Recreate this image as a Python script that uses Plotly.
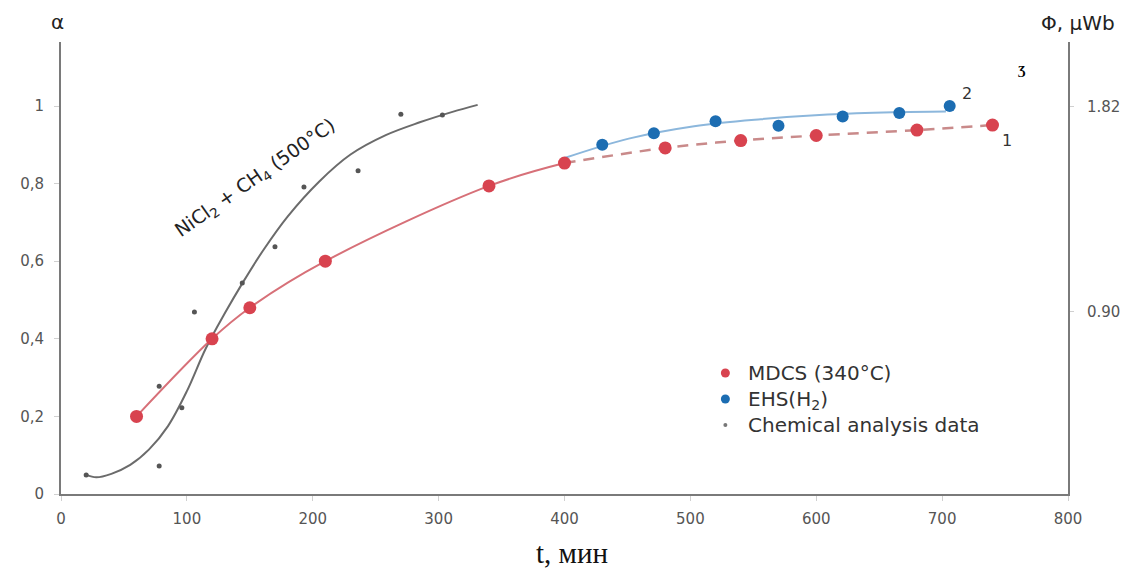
import plotly.graph_objects as go

# ---- data ----
mdcs_t = [60, 120, 150, 210, 340, 400]
mdcs_a = [0.20, 0.40, 0.48, 0.60, 0.794, 0.853]
mdcs_t2 = [400, 480, 540, 600, 680, 740]
mdcs_a2 = [0.853, 0.892, 0.911, 0.924, 0.938, 0.951]

ehs_t = [430, 471, 520, 570, 621, 666, 706]
ehs_a = [0.900, 0.930, 0.961, 0.949, 0.973, 0.982, 1.000]
ehs_fit_t = [400, 451, 503, 556, 609, 661, 703]
ehs_fit_a = [0.866, 0.916, 0.948, 0.966, 0.978, 0.984, 0.986]

chem_t = [20, 78, 78, 96, 106, 144, 170, 193, 236, 270, 303]
chem_a = [0.049, 0.072, 0.278, 0.222, 0.469, 0.544, 0.637, 0.791, 0.833, 0.979, 0.977]
chem_fit_t = [20, 28, 40, 55, 70, 85, 100, 115, 130, 145, 160, 180, 205, 230, 258, 285, 311, 331]
chem_fit_a = [0.050, 0.043, 0.052, 0.075, 0.115, 0.175, 0.265, 0.375, 0.465, 0.548,
              0.625, 0.715, 0.805, 0.875, 0.925, 0.958, 0.985, 1.003]

x_ticks = [0, 100, 200, 300, 400, 500, 600, 700, 800]
y_ticks = [0, 0.2, 0.4, 0.6, 0.8, 1.0]
y_ticktext = ["0", "0,2", "0,4", "0,6", "0,8", "1"]
y2_ticks = [0.90, 1.82]
y2_ticktext = ["0.90", "1.82"]

legend_names = ["MDCS (340°C)", "EHS(H<sub>2</sub>)", "Chemical analysis data"]

RED = "#d8434f"
RED_LINE = "#d77078"
RED_DASH = "#c98a8a"
BLUE = "#1c6db2"
BLUE_LINE = "#8cb7dc"
GRAY_LINE = "#6b6b6b"
GRAY_DOT = "#555555"

fig = go.Figure()

# fitted curves
fig.add_trace(go.Scatter(x=chem_fit_t, y=chem_fit_a, mode="lines",
                         line=dict(color=GRAY_LINE, width=2, shape="spline"),
                         showlegend=False, hoverinfo="skip"))
fig.add_trace(go.Scatter(x=mdcs_t, y=mdcs_a, mode="lines",
                         line=dict(color=RED_LINE, width=2, shape="spline"),
                         showlegend=False, hoverinfo="skip"))
fig.add_trace(go.Scatter(x=mdcs_t2, y=mdcs_a2, mode="lines",
                         line=dict(color=RED_DASH, width=2.5, shape="spline", dash="11px,8px"),
                         showlegend=False, hoverinfo="skip"))
fig.add_trace(go.Scatter(x=ehs_fit_t, y=ehs_fit_a, mode="lines",
                         line=dict(color=BLUE_LINE, width=2, shape="spline"),
                         showlegend=False, hoverinfo="skip"))

# data points
fig.add_trace(go.Scatter(x=chem_t, y=chem_a, mode="markers", name=legend_names[2],
                         marker=dict(color=GRAY_DOT, size=5), showlegend=False))
fig.add_trace(go.Scatter(x=mdcs_t + mdcs_t2[1:], y=mdcs_a + mdcs_a2[1:], mode="markers",
                         name=legend_names[0],
                         marker=dict(color=RED, size=13), showlegend=False))
fig.add_trace(go.Scatter(x=ehs_t, y=ehs_a, mode="markers", name=legend_names[1],
                         marker=dict(color=BLUE, size=12), showlegend=False))

# invisible trace to activate right axis
fig.add_trace(go.Scatter(x=[None], y=[None], yaxis="y2", showlegend=False))

tick_font = dict(family="DejaVu Sans, sans-serif", size=15, color="#555555")

PL, PR, PT, PB = 57, 1068, 42, 494   # plot area in window pixels
W, H = 1130, 563                      # page adds an 8px body margin

def px(x):
    return (x - PL) / (PR - PL)

def py(y):
    return (PB - y) / (PB - PT)

fig.update_layout(
    width=W, height=H,
    margin=dict(l=PL - 8, r=W + 8 - PR, t=PT - 8, b=H + 8 - PB),
    paper_bgcolor="white", plot_bgcolor="white",
    showlegend=False,
    xaxis=dict(range=[0, 800], tickvals=x_ticks, showgrid=False, zeroline=False,
               showline=True, linecolor="#7a7a7a", linewidth=2,
               ticks="outside", ticklen=5, tickcolor="#d0d0d0",
               tickfont=tick_font, ticklabelstandoff=5),
    yaxis=dict(range=[0, 1.165], tickvals=y_ticks, ticktext=y_ticktext,
               showgrid=False, zeroline=False,
               showline=True, linecolor="#7a7a7a", linewidth=2,
               ticks="outside", ticklen=5, tickcolor="#d0d0d0",
               tickfont=tick_font, ticklabelstandoff=7),
    yaxis2=dict(range=[0.081, 2.11], overlaying="y", side="right",
                tickvals=y2_ticks, ticktext=y2_ticktext,
                showgrid=False, zeroline=False,
                showline=True, linecolor="#7a7a7a", linewidth=2,
                ticks="outside", ticklen=4, tickcolor="#d0d0d0",
                tickfont=tick_font, ticklabelstandoff=10),
)

ann_font = dict(family="DejaVu Sans, sans-serif", color="#333333")
annotations = [
    dict(text="NiCl<sub>2</sub> + CH<sub>4</sub> (500°C)", x=px(252), y=py(178), textangle=-35,
         font=dict(ann_font, size=19, color="#222222")),
    dict(text="2", x=px(967), y=py(93), font=dict(ann_font, size=16)),
    dict(text="1", x=px(1007), y=py(140), font=dict(ann_font, size=16)),
    dict(text="α", x=px(53), y=py(22), font=dict(ann_font, size=20, color="#222222")),
    dict(text="Φ, µWb", x=px(1078), y=py(23), font=dict(ann_font, size=20, color="#222222")),
    dict(text="<b>Ʒ</b>", x=px(1022), y=py(70),
         font=dict(family="Liberation Serif, serif", size=13, color="#000000")),
    dict(text="t, мин", x=px(570), y=py(553),
         font=dict(family="Liberation Serif, Times New Roman, serif", size=29, color="#111111")),
    # legend drawn as one block of text rows
    dict(text="<br>".join(legend_names), x=px(745), y=py(399), xanchor="left", align="left",
         font=dict(ann_font, size=20, color="#333333")),
]
for a in annotations:
    a.setdefault("xanchor", "center")
    a.update(xref="paper", yref="paper", showarrow=False, yanchor="middle")

legend_rows = [373, 399, 425]
shapes = []
for color, d, yrow in zip([RED, BLUE, "#777777"], [9, 9, 4], legend_rows):
    shapes.append(dict(type="circle", xref="paper", yref="paper",
                       xsizemode="pixel", ysizemode="pixel",
                       xanchor=px(724), yanchor=py(yrow),
                       x0=-d / 2, x1=d / 2, y0=-d / 2, y1=d / 2,
                       fillcolor=color, line=dict(width=0)))
fig.update_layout(annotations=annotations, shapes=shapes)

fig.write_html("out.html")
